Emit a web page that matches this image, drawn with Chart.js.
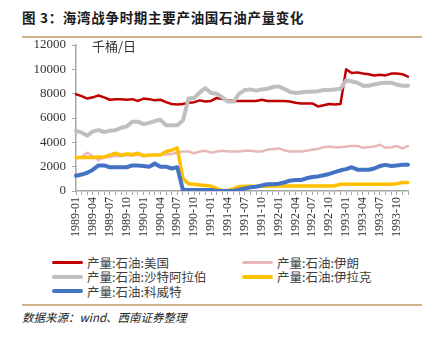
<!DOCTYPE html>
<html><head><meta charset="utf-8">
<script src="https://cdn.jsdelivr.net/npm/chart.js@4"></script>
<style>
html,body{margin:0;padding:0;background:#fff;width:436px;height:338px;overflow:hidden;position:relative;}
#title{position:absolute;left:22px;top:7px;font:bold 13.5px "Noto Sans CJK SC";color:#1a1a1a;letter-spacing:0.7px;white-space:nowrap;}
.rule{position:absolute;left:22px;width:400px;height:2px;background:#d2b48c;}
#wrap{position:absolute;left:0;top:0;width:436px;height:250px;}
#legend{position:absolute;left:52px;top:255px;display:grid;grid-template-columns:190px 190px;row-gap:0px;font:12.5px "Noto Sans CJK SC";color:#404040;}
.li{display:flex;align-items:center;height:14.5px;white-space:nowrap;}
.sw{width:31px;height:3px;border-radius:2px;margin-right:4px;}
#src{position:absolute;left:22px;top:309px;font:italic 11.5px "Noto Sans CJK SC";color:#222;white-space:nowrap;}
</style></head>
<body>
<div id="title">图 3：海湾战争时期主要产油国石油产量变化</div>
<div class="rule" style="top:36px;"></div>
<div id="wrap"><canvas id="c" width="436" height="250"></canvas></div>
<div id="legend"></div>
<div class="rule" style="top:304px;"></div>
<div id="src">数据来源：wind、西南证券整理</div>
<script>
const months = [
 "1989-01","1989-02","1989-03","1989-04","1989-05","1989-06","1989-07","1989-08","1989-09","1989-10","1989-11","1989-12",
 "1990-01","1990-02","1990-03","1990-04","1990-05","1990-06","1990-07","1990-08","1990-09","1990-10","1990-11","1990-12",
 "1991-01","1991-02","1991-03","1991-04","1991-05","1991-06","1991-07","1991-08","1991-09","1991-10","1991-11","1991-12",
 "1992-01","1992-02","1992-03","1992-04","1992-05","1992-06","1992-07","1992-08","1992-09","1992-10","1992-11","1992-12",
 "1993-01","1993-02","1993-03","1993-04","1993-05","1993-06","1993-07","1993-08","1993-09","1993-10","1993-11","1993-12"];
const usa = [7950,7800,7600,7700,7850,7700,7500,7550,7550,7500,7550,7400,
 7600,7550,7450,7500,7300,7150,7100,7150,7250,7300,7450,7350,
 7400,7650,7550,7450,7400,7400,7400,7400,7400,7500,7400,7400,
 7400,7400,7350,7250,7200,7200,7200,6950,7050,7150,7100,7150,
 10000,9700,9750,9650,9600,9500,9550,9500,9650,9650,9600,9400];
const iran = [2700,2800,3150,2850,2550,2750,2800,2900,2850,2950,2900,3000,
 2850,2900,2950,3000,3000,3050,3150,3250,3250,3100,3250,3300,
 3150,3250,3300,3250,3250,3250,3300,3300,3250,3250,3400,3450,
 3500,3350,3250,3250,3250,3300,3400,3450,3600,3650,3600,3600,
 3650,3700,3700,3550,3600,3650,3800,3550,3600,3700,3500,3700];
const saudi = [4950,4800,4550,4900,5000,4850,4950,5000,5200,5300,5700,5700,
 5500,5600,5750,5850,5400,5400,5400,5800,7600,7650,8100,8450,
 8050,8000,7700,7350,7350,8000,8300,8350,8250,8350,8400,8550,
 8600,8400,8150,8050,8100,8150,8150,8200,8300,8300,8350,8400,
 9100,9000,8900,8650,8650,8750,8850,8900,8900,8750,8650,8650];
const iraq = [2750,2750,2750,2750,2800,2800,2950,3100,2950,3050,3000,3100,
 2900,2950,2950,2950,3250,3350,3550,1000,600,550,500,450,
 400,200,50,50,200,350,400,400,400,400,400,420,
 420,420,420,420,420,420,420,420,420,420,430,550,
 550,550,550,550,550,550,550,550,550,600,700,700];
const kuwait = [1250,1350,1500,1750,2100,2100,1950,1950,1950,1950,2100,2100,
 2050,2000,2250,2000,2000,1850,1950,80,80,80,80,80,
 80,0,0,0,0,100,200,300,350,450,550,550,
 600,700,850,900,900,1050,1150,1200,1300,1400,1550,1700,
 1800,1950,1750,1750,1750,1850,2050,2150,2050,2100,2150,2150];
const yTicks = [0,2000,4000,6000,8000,10000,12000];
const seriesNames = ["产量:石油:美国","产量:石油:伊朗","产量:石油:沙特阿拉伯","产量:石油:伊拉克","产量:石油:科威特"];
const unitLabel = "千桶/日";

const colors = ["#C00000","#E6B9B8","#BFBFBF","#FFC000","#4472C4"];
const widths = [2.5,2.5,4,3.5,4];
const dataList = [usa,iran,saudi,iraq,kuwait];
const serif = "'Liberation Serif', 'Times New Roman', 'DejaVu Serif', serif";

const datasets = dataList.map((d,i)=>({
  label: seriesNames[i], data: d, borderColor: colors[i], backgroundColor: colors[i],
  borderWidth: widths[i], pointRadius: 0, tension: 0, fill: false,
  order: 5 - i, borderJoinStyle: 'round', borderCapStyle: 'round'
}));

const unitPlugin = {
  id: 'unit',
  afterDraw(chart){
    const ctx = chart.ctx, a = chart.chartArea;
    ctx.save();
    ctx.font = '13px "Noto Sans CJK SC"';
    ctx.fillStyle = '#333';
    ctx.textBaseline = 'middle';
    ctx.fillText(unitLabel, a.left + 16, a.top + 1);
    ctx.restore();
  }
};

const chart = new Chart(document.getElementById('c'), {
  type: 'line',
  data: { labels: months, datasets },
  options: {
    responsive: false, animation: false, devicePixelRatio: 1,
    layout: { padding: { left: 0, right: 28, top: 45, bottom: 0 } },
    plugins: { legend: { display: false }, tooltip: { enabled: false } },
    scales: {
      x: {
        offset: false,
        grid: { display: true, drawOnChartArea: false, drawTicks: true, tickLength: 4, color: '#A6A6A6' },
        border: { display: true, color: '#A6A6A6', width: 1.5 },
        ticks: {
          autoSkip: false, maxRotation: 90, minRotation: 90, padding: 2,
          color: '#333', font: { family: serif, size: 12 },
          callback: (v, i) => i % 3 === 0 ? months[i] : ''
        },
        afterFit: s => { s.height = 59; }
      },
      y: {
        min: 0, max: 12000,
        afterBuildTicks: s => { s.ticks = yTicks.map(v => ({ value: v })); },
        grid: { display: true, drawOnChartArea: false, drawTicks: true, tickLength: 4, color: '#A6A6A6' },
        border: { display: true, color: '#A6A6A6', width: 1.5 },
        ticks: { color: '#333', padding: 6, font: { family: serif, size: 13 }, callback: v => String(v) },
        afterFit: s => { s.width = 76; }
      }
    }
  },
  plugins: [unitPlugin]
});

const lg = document.getElementById('legend');
datasets.forEach(ds => {
  const d = document.createElement('div'); d.className = 'li';
  const sw = document.createElement('span'); sw.className = 'sw'; sw.style.background = ds.borderColor;
  sw.style.height = Math.max(3, ds.borderWidth) + 'px';
  const t = document.createElement('span'); t.textContent = ds.label;
  d.appendChild(sw); d.appendChild(t); lg.appendChild(d);
});
</script>
</body></html>
